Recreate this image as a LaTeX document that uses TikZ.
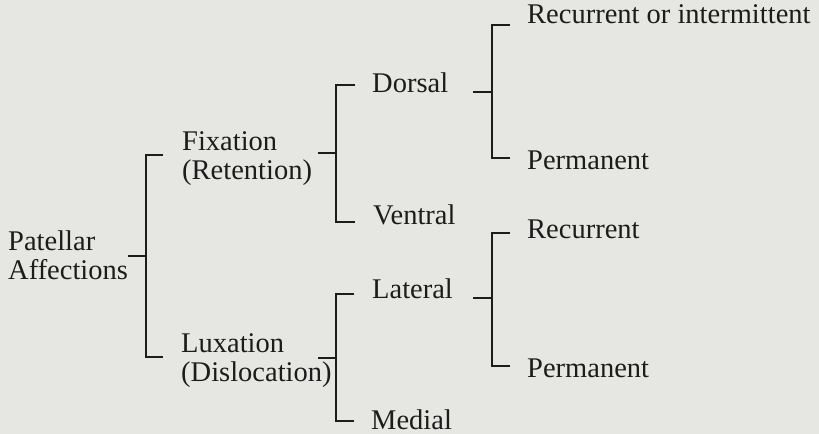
\documentclass[tikz,border=0pt]{standalone}
\usepackage{fontspec}
\setmainfont{Liberation Serif}
\definecolor{paper}{HTML}{E6E6E3}
\definecolor{ink}{HTML}{1C1C1C}
\tikzset{
  lbl/.style={anchor=base west, inner sep=0pt, align=left, text=ink,
    font=\fontsize{28.5bp}{29bp}\selectfont},
  br/.style={draw=ink, line width=2.6bp},
}

\begin{document}
\begin{tikzpicture}[x=1bp,y=-1bp]
\fill[paper] (0,0) rectangle (819,434);
\useasboundingbox (0,0) rectangle (819,434);

% labels (two-line labels sit on their last line)
\node[lbl] (pat) at (8,279.3) {Patellar\\Affections};
\node[lbl] (fix) at (182,180) {Fixation\\(Retention)};
\node[lbl] (lux) at (181,381.7) {Luxation\\(Dislocation)};
\node[lbl] (dor) at (372,93) {Dorsal};
\node[lbl] (ven) at (373,225) {Ventral};
\node[lbl] (lat) at (372,299) {Lateral};
\node[lbl] (med) at (371,429) {Medial};
\node[lbl] (rec1) at (527,23.5) {Recurrent or intermittent};
\node[lbl] (per1) at (527,170) {Permanent};
\node[lbl] (rec2) at (527,239) {Recurrent};
\node[lbl] (per2) at (527,378) {Permanent};

% bracket points
\coordinate (pat-out) at (128,256);
\coordinate (pat-j) at (146,256);
\coordinate (fix-in) at (163,155);
\coordinate (lux-in) at (163,357);
\coordinate (fix-out) at (318,153);
\coordinate (fix-j) at (336,153);
\coordinate (dor-in) at (355,85);
\coordinate (ven-in) at (355,222);
\coordinate (lux-out) at (318,358);
\coordinate (lux-j) at (336,358);
\coordinate (lat-in) at (354,294);
\coordinate (med-in) at (354,421);
\coordinate (dor-out) at (473,92);
\coordinate (dor-j) at (492,92);
\coordinate (rec1-in) at (510,25);
\coordinate (per1-in) at (510,158);
\coordinate (lat-out) at (473,298);
\coordinate (lat-j) at (492,298);
\coordinate (rec2-in) at (510,233);
\coordinate (per2-in) at (510,366);

% brackets
\draw[br] (pat-out) -- (pat-j);
\draw[br] (fix-in) -| (pat-j) |- (lux-in);
\draw[br] (fix-out) -- (fix-j);
\draw[br] (dor-in) -| (fix-j) |- (ven-in);
\draw[br] (lux-out) -- (lux-j);
\draw[br] (lat-in) -| (lux-j) |- (med-in);
\draw[br] (dor-out) -- (dor-j);
\draw[br] (rec1-in) -| (dor-j) |- (per1-in);
\draw[br] (lat-out) -- (lat-j);
\draw[br] (rec2-in) -| (lat-j) |- (per2-in);
\end{tikzpicture}
\end{document}
